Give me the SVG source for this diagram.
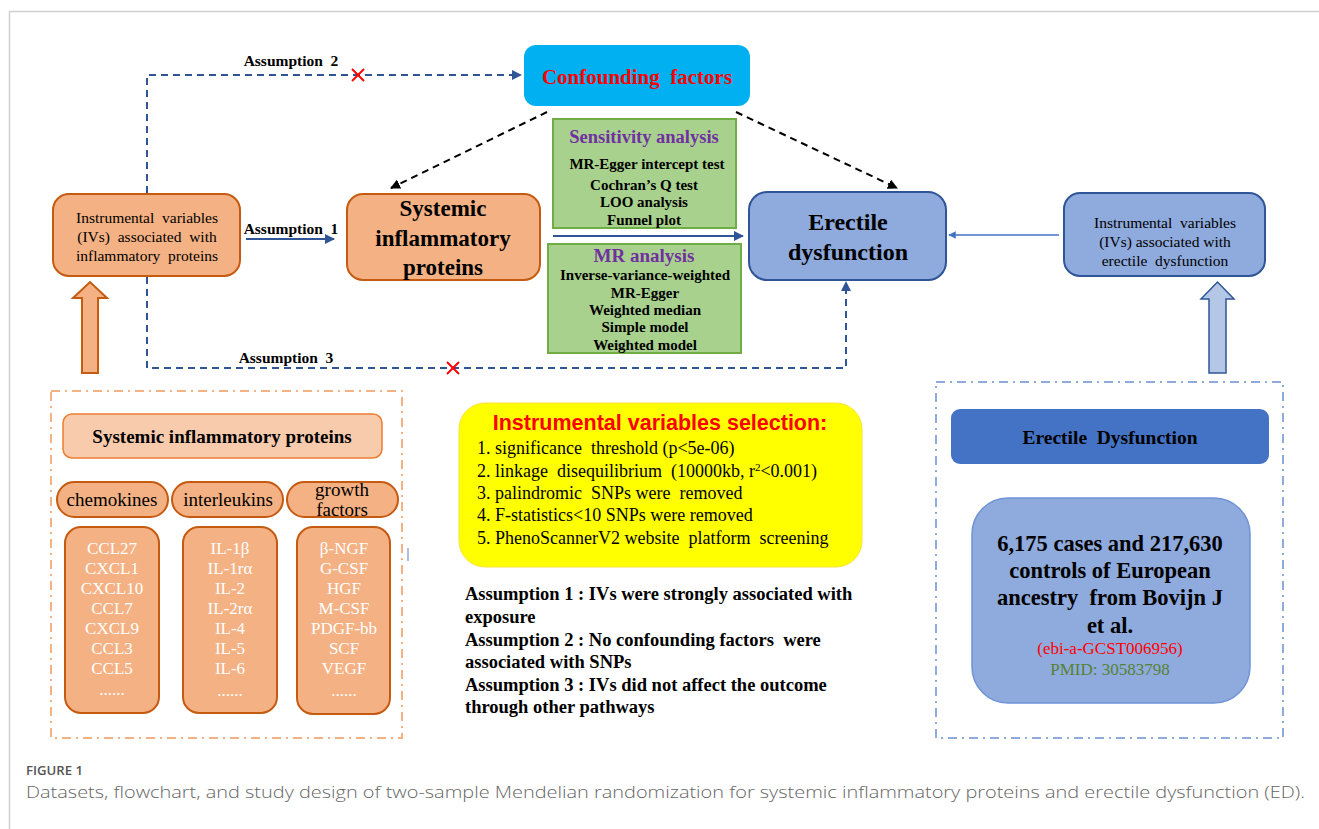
<svg xmlns="http://www.w3.org/2000/svg" width="1319" height="829" viewBox="0 0 1319 829">
<defs>
<style>
.serif{font-family:"Liberation Serif","Times New Roman",serif;}
.b{font-weight:bold;}
.c{text-anchor:middle;}
.orange{fill:#F4B183;stroke:#C55A11;stroke-width:2;}
.blue{fill:#8FAADC;stroke:#2F5597;stroke-width:2;}
.green{fill:#A9D18E;stroke:#70AD47;stroke-width:2;}
.dashblue{fill:none;stroke:#2F5597;stroke-width:2;stroke-dasharray:7,5;}
.dashblack{fill:none;stroke:#000;stroke-width:2;stroke-dasharray:7,5;}
.cross{stroke:#FF0000;stroke-width:2;}
.wt{fill:#fff;font-size:17px;}
</style>
<marker id="ab" viewBox="0 0 10 10" refX="9" refY="5" markerWidth="5" markerHeight="5" orient="auto"><path d="M0,0 L10,5 L0,10 z" fill="#2F5597"/></marker>
<marker id="abl" viewBox="0 0 10 10" refX="9" refY="5" markerWidth="5" markerHeight="5" orient="auto"><path d="M0,0 L10,5 L0,10 z" fill="#4472C4"/></marker>
<marker id="ak" viewBox="0 0 10 10" refX="9" refY="5" markerWidth="5" markerHeight="5" orient="auto"><path d="M0,0 L10,5 L0,10 z" fill="#000"/></marker>
</defs>
<rect width="1319" height="829" fill="#fff"/>
<path d="M9.5,829 V11.5 H1319" fill="none" stroke="#d0d0d0" stroke-width="1.5"/>

<g id="connectors">
<line x1="246" y1="239" x2="334" y2="239" stroke="#2F5597" stroke-width="2" marker-end="url(#ab)"/>
<path d="M147,193 V75 H521" class="dashblue" marker-end="url(#ab)"/>
<path d="M147,277 V368 H846 V282" class="dashblue" marker-end="url(#ab)"/>
<line x1="547" y1="112" x2="391" y2="188" class="dashblack" marker-end="url(#ak)"/>
<line x1="736" y1="112" x2="897" y2="188" class="dashblack" marker-end="url(#ak)"/>
<line x1="553" y1="236" x2="743" y2="236" stroke="#2F5597" stroke-width="2" marker-end="url(#ab)"/>
<line x1="1059" y1="235" x2="949" y2="235" stroke="#4472C4" stroke-width="1.5" marker-end="url(#abl)"/>
<g class="cross"><line x1="352" y1="69" x2="364" y2="81"/><line x1="364" y1="69" x2="352" y2="81"/><line x1="447" y1="362" x2="459" y2="374"/><line x1="459" y1="362" x2="447" y2="374"/></g>
<text x="291" y="66" class="serif b c" font-size="15.5" xml:space="preserve">Assumption  2</text>
<text x="291" y="234" class="serif b c" font-size="15.5" xml:space="preserve">Assumption  1</text>
<text x="286" y="363" class="serif b c" font-size="15.5" xml:space="preserve">Assumption  3</text>
<path d="M82,373 V298 H73 L90,282 L107,298 H98 V373 Z" class="orange"/>
<path d="M1209,373 V299 H1201 L1217.5,282 L1234,299 H1226 V373 Z" fill="#B4C7E7" stroke="#2F5597" stroke-width="1.5"/>
<line x1="408" y1="548" x2="408" y2="561" stroke="#8FAADC" stroke-width="1.5"/>
</g>

<g id="iv-left">
<rect x="53" y="194" width="187" height="82" rx="16" class="orange"/>
<text class="serif c" font-size="15.5" xml:space="preserve"><tspan x="147" y="223">Instrumental  variables</tspan><tspan x="147" y="242">(IVs)  associated  with</tspan><tspan x="147" y="261">inflammatory  proteins</tspan></text>
</g>

<g id="sip">
<rect x="347" y="194" width="193" height="86" rx="16" class="orange"/>
<text class="serif b c" font-size="23"><tspan x="443" y="216">Systemic</tspan><tspan x="443" y="246">inflammatory</tspan><tspan x="443" y="275">proteins</tspan></text>
</g>

<g id="confounding">
<rect x="524" y="45" width="226" height="61" rx="12" fill="#00B0F0"/>
<text x="637" y="84" class="serif b c" font-size="21" fill="#FF0000" xml:space="preserve">Confounding  factors</text>
</g>

<g id="sensitivity">
<rect x="553" y="119" width="183" height="109" class="green"/>
<text x="644" y="143" class="serif b c" font-size="18.5" fill="#7030A0">Sensitivity analysis</text>
<text class="serif b c" font-size="15"><tspan x="647" y="169">MR-Egger intercept test</tspan><tspan x="644" y="190">Cochran’s Q test</tspan><tspan x="644" y="207">LOO analysis</tspan><tspan x="644" y="225">Funnel plot</tspan></text>
</g>

<g id="mr">
<rect x="548" y="244" width="193" height="109" class="green"/>
<text x="644" y="262" class="serif b c" font-size="19" fill="#7030A0">MR analysis</text>
<text class="serif b c" font-size="15"><tspan x="645" y="280">Inverse-variance-weighted</tspan><tspan x="645" y="298">MR-Egger</tspan><tspan x="645" y="315">Weighted median</tspan><tspan x="645" y="332">Simple model</tspan><tspan x="645" y="350">Weighted model</tspan></text>
</g>

<g id="ed">
<rect x="749" y="192" width="197" height="88" rx="18" class="blue"/>
<text class="serif b c" font-size="24"><tspan x="848" y="230">Erectile</tspan><tspan x="848" y="260">dysfunction</tspan></text>
</g>

<g id="iv-right">
<rect x="1064" y="193" width="201" height="83" rx="16" class="blue"/>
<text class="serif c" font-size="15.5" xml:space="preserve"><tspan x="1165" y="228">Instrumental  variables</tspan><tspan x="1165" y="247">(IVs) associated with</tspan><tspan x="1165" y="266">erectile  dysfunction</tspan></text>
</g>

<g id="proteins-panel">
<rect x="51" y="391" width="351" height="347" fill="none" stroke="#F4B183" stroke-width="2" stroke-dasharray="9,5,2,5"/>
<rect x="63" y="414" width="319" height="44" rx="9" fill="#F8CBAD" stroke="#ED7D31" stroke-width="1.5"/>
<text x="222" y="443" class="serif b c" font-size="19">Systemic inflammatory proteins</text>
<rect x="57" y="482" width="111" height="35" rx="17.5" class="orange"/>
<text x="112" y="506" class="serif c" font-size="19">chemokines</text>
<rect x="172" y="482" width="111" height="35" rx="17.5" class="orange"/>
<text x="228" y="506" class="serif c" font-size="19">interleukins</text>
<rect x="287" y="482" width="111" height="35" rx="17.5" class="orange"/>
<text class="serif c" font-size="19"><tspan x="342" y="496">growth</tspan><tspan x="342" y="516">factors</tspan></text>
<rect x="65" y="527" width="94" height="186" rx="16" class="orange"/>
<rect x="183" y="527" width="94" height="186" rx="16" class="orange"/>
<rect x="297" y="527" width="93" height="187" rx="16" class="orange"/>
<text class="serif c wt"><tspan x="112" y="554">CCL27</tspan><tspan x="112" y="574">CXCL1</tspan><tspan x="112" y="594">CXCL10</tspan><tspan x="112" y="614">CCL7</tspan><tspan x="112" y="634">CXCL9</tspan><tspan x="112" y="654">CCL3</tspan><tspan x="112" y="674">CCL5</tspan><tspan x="112" y="695">......</tspan></text>
<text class="serif c wt"><tspan x="230" y="554">IL-1β</tspan><tspan x="230" y="574">IL-1rα</tspan><tspan x="230" y="594">IL-2</tspan><tspan x="230" y="614">IL-2rα</tspan><tspan x="230" y="634">IL-4</tspan><tspan x="230" y="654">IL-5</tspan><tspan x="230" y="674">IL-6</tspan><tspan x="230" y="696">......</tspan></text>
<text class="serif c wt"><tspan x="344" y="554">β-NGF</tspan><tspan x="344" y="574">G-CSF</tspan><tspan x="344" y="594">HGF</tspan><tspan x="344" y="614">M-CSF</tspan><tspan x="344" y="634">PDGF-bb</tspan><tspan x="344" y="654">SCF</tspan><tspan x="344" y="674">VEGF</tspan><tspan x="344" y="696">......</tspan></text>
</g>

<g id="iv-selection">
<rect x="459" y="403" width="403" height="164" rx="26" fill="#FFFF00" stroke="#FFE040" stroke-width="1"/>
<text x="660" y="430" class="c b" font-family="Liberation Sans, Arial, sans-serif" font-size="21.5" fill="#FF0000">Instrumental variables selection:</text>
<text class="serif" font-size="18" xml:space="preserve"><tspan x="477" y="454">1. significance  threshold (p&lt;5e-06)</tspan><tspan x="477" y="477">2. linkage  disequilibrium  (10000kb, r<tspan font-size="11" dy="-6">2</tspan><tspan dy="6">&lt;0.001)</tspan></tspan><tspan x="477" y="499">3. palindromic  SNPs were  removed</tspan><tspan x="477" y="521">4. F-statistics&lt;10 SNPs were removed</tspan><tspan x="477" y="544">5. PhenoScannerV2 website  platform  screening</tspan></text>
</g>

<g id="assumptions">
<text class="serif b" font-size="18.5" xml:space="preserve"><tspan x="465" y="600">Assumption 1 : IVs were strongly associated with</tspan><tspan x="465" y="623">exposure</tspan><tspan x="465" y="646">Assumption 2 : No confounding factors  were</tspan><tspan x="465" y="668">associated with SNPs</tspan><tspan x="465" y="691">Assumption 3 : IVs did not affect the outcome</tspan><tspan x="465" y="713">through other pathways</tspan></text>
</g>

<g id="ed-panel">
<rect x="936" y="382" width="347" height="356" fill="none" stroke="#8FAADC" stroke-width="2" stroke-dasharray="9,5,2,5"/>
<rect x="951" y="409" width="318" height="55" rx="9" fill="#4472C4"/>
<text x="1110" y="444" class="serif b c" font-size="19.5" xml:space="preserve">Erectile  Dysfunction</text>
<rect x="972" y="498" width="278" height="205" rx="36" fill="#8FAADC" stroke="#6F93D6" stroke-width="1.5"/>
<text class="serif b c" font-size="22.5" xml:space="preserve"><tspan x="1110" y="551">6,175 cases and 217,630</tspan><tspan x="1110" y="578">controls of European</tspan><tspan x="1110" y="605">ancestry  from Bovijn J</tspan><tspan x="1110" y="633">et al.</tspan></text>
<text x="1110" y="654" class="serif c" font-size="17" fill="#FF0000">(ebi-a-GCST006956)</text>
<text x="1110" y="675" class="serif c" font-size="17" fill="#548235">PMID: 30583798</text>
</g>

<g id="caption">
<text x="26" y="775" font-family="Open Sans, Liberation Sans, sans-serif" font-size="13" font-weight="600" fill="#555" textLength="57" lengthAdjust="spacingAndGlyphs">FIGURE 1</text>
<text x="26" y="798" font-family="Open Sans, Liberation Sans, sans-serif" font-size="16" font-weight="300" fill="#666" textLength="1279" lengthAdjust="spacingAndGlyphs">Datasets, flowchart, and study design of two-sample Mendelian randomization for systemic inflammatory proteins and erectile dysfunction (ED).</text>
</g>
</svg>
